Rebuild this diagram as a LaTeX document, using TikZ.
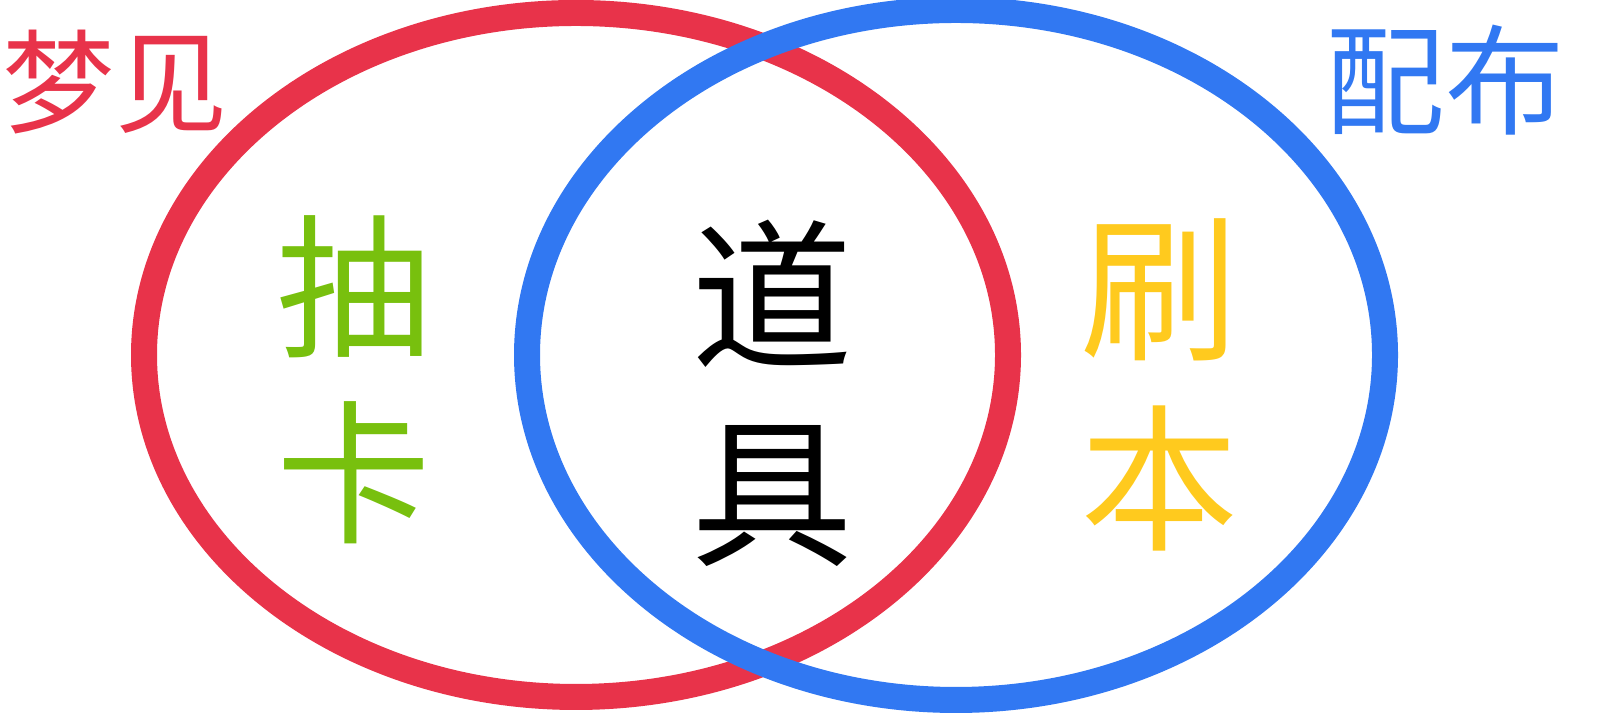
\documentclass[tikz,border=0pt]{standalone}
\usepackage{fontspec}
\newfontfamily\cjk{Noto Sans CJK SC}
\usepackage{tikz}
\definecolor{dreamred}{HTML}{E8334A}
\definecolor{cloudblue}{HTML}{3178F2}
\definecolor{drawgreen}{HTML}{78C00E}
\definecolor{runyellow}{HTML}{FFCA1E}

\begin{document}
\begin{tikzpicture}[scale=1]
\useasboundingbox (0,0) rectangle (16,7.2);
\draw[dreamred, line width=0.26cm] (5.76,3.65) ellipse (4.32cm and 3.42cm);
\draw[cloudblue, line width=0.26cm] (9.56,3.65) ellipse (4.29cm and 3.45cm);
\node[dreamred, font=\cjk\fontsize{32}{38}\selectfont] (dream) at (1.15,6.38) {梦见};
\node[cloudblue, font=\cjk\fontsize{34}{40}\selectfont] (cloud) at (14.45,6.4) {配布};
\node[drawgreen, align=center, font=\cjk\fontsize{44}{53}\selectfont] (gacha) at (3.54,3.4) {抽\\卡};
\node[black, align=center, font=\cjk\fontsize{46}{56}\selectfont] (item) at (7.72,3.27) {道\\具};
\node[runyellow, align=center, font=\cjk\fontsize{45}{54}\selectfont] (farm) at (11.6,3.35) {刷\\本};
\end{tikzpicture}
\end{document}
